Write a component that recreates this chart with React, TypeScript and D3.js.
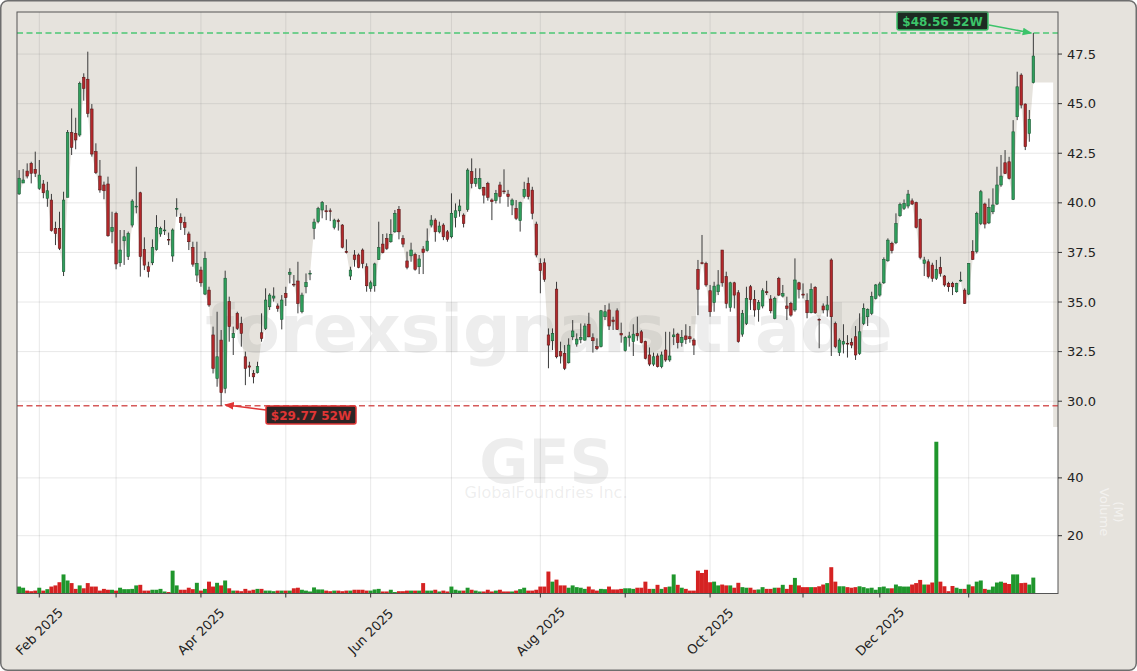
import * as d3 from "d3";

// GFS daily candles, 2025-01-27 .. 2026-01-27 (one row per trading day)
const opens = [
  40.45, 41.0, 41.6, 41.99, 41.69, 40.73, 40.95, 40.23, 40.14, 38.71, 38.71, 36.53, 40.28, 43.54, 43.5, 43.42, 46.33, 46.23, 44.73, 42.58,
  41.35, 40.9, 40.95, 38.55, 39.47, 36.98, 38.09, 37.29, 38.88, 39.8, 40.51, 37.65, 36.78, 36.98, 37.65, 38.43, 38.6, 38.16, 37.32, 39.72,
  39.27, 39.0, 38.43, 37.75, 36.36, 36.61, 35.4, 35.6, 33.34, 31.15, 33.08, 30.65, 35.02, 33.2, 34.43, 33.92, 32.24, 31.78, 31.4, 31.44,
  33.45, 33.67, 34.76, 35.2, 34.8, 34.13, 35.44, 36.4, 35.9, 36.06, 34.51, 35.77, 36.42, 38.7, 39.05, 39.64, 39.6, 39.6, 38.76, 39.1,
  38.88, 37.55, 36.31, 37.37, 37.37, 37.62, 36.78, 35.69, 35.82, 37.15, 37.92, 38.2, 38.04, 38.54, 39.67, 38.2, 37.07, 37.33, 37.4, 36.78,
  37.67, 37.59, 38.88, 39.13, 38.54, 38.88, 38.54, 38.29, 39.27, 39.6, 39.38, 39.67, 41.57, 40.98, 40.73, 40.78, 40.98, 40.14, 40.11, 40.9,
  40.6, 40.44, 39.89, 39.72, 39.1, 40.31, 40.98, 40.64, 38.93, 36.95, 36.98, 33.34, 33.05, 35.65, 32.5, 32.41, 31.94, 33.25, 32.88, 33.12,
  33.08, 33.88, 33.2, 32.75, 32.75, 34.26, 34.6, 34.09, 34.56, 33.42, 32.55, 33.2, 33.0, 33.42, 33.5, 33.0, 32.33, 31.87, 32.28, 31.74,
  32.58, 32.08, 33.25, 33.38, 32.95, 33.29, 33.25, 33.08, 36.65, 36.98, 36.95, 35.57, 34.97, 35.52, 37.62, 36.28, 34.73, 35.97, 35.47, 33.38,
  33.92, 35.77, 35.13, 34.63, 34.8, 35.52, 35.15, 34.17, 36.19, 35.3, 34.8, 34.93, 34.6, 35.97, 35.4, 35.07, 34.46, 35.74, 34.13, 34.8,
  34.6, 37.12, 33.92, 32.45, 32.88, 32.92, 32.96, 33.25, 32.41, 33.92, 34.26, 34.43, 35.18, 35.35, 35.97, 37.08, 37.96, 37.99, 39.35, 39.72,
  39.84, 40.1, 40.01, 39.17, 36.95, 37.03, 36.86, 36.19, 36.75, 36.31, 35.94, 35.94, 35.52, 36.08, 35.6, 35.4, 37.54, 37.54, 38.96, 39.94,
  38.99, 39.55, 39.94, 40.9, 42.02, 42.07, 40.17, 44.34, 46.44, 44.98, 43.5, 46.06,
];
const highs = [
  41.65, 41.7, 41.99, 42.07, 42.58, 42.16, 41.15, 41.06, 40.45, 39.05, 39.55, 40.56, 43.67, 44.76, 44.29, 46.11, 46.53, 47.62, 44.98, 43.0,
  42.16, 41.07, 41.32, 39.55, 39.55, 38.63, 38.63, 38.55, 40.18, 41.82, 40.56, 38.26, 37.03, 38.16, 39.38, 38.8, 39.13, 38.5, 38.71, 40.23,
  39.47, 39.3, 38.55, 38.04, 38.04, 36.78, 37.54, 35.77, 33.76, 34.51, 33.59, 36.58, 35.27, 33.76, 34.51, 34.26, 32.5, 31.99, 31.57, 31.99,
  34.43, 35.69, 35.44, 35.74, 34.93, 35.35, 35.77, 36.7, 36.36, 37.03, 35.47, 36.44, 36.6, 39.2, 39.8, 40.09, 39.89, 39.72, 39.2, 39.2,
  38.93, 38.16, 36.78, 37.62, 37.45, 37.7, 36.95, 36.08, 36.98, 39.05, 38.43, 38.46, 39.17, 39.64, 39.84, 38.37, 37.54, 37.99, 37.49, 37.37,
  37.82, 38.71, 39.38, 39.22, 39.05, 38.97, 38.63, 40.48, 39.97, 40.17, 39.47, 41.74, 42.24, 41.74, 41.74, 40.81, 41.06, 40.22, 40.65, 41.06,
  41.69, 40.65, 40.22, 40.14, 40.06, 41.06, 41.28, 40.81, 39.05, 37.2, 37.2, 33.67, 33.67, 36.02, 33.0, 32.83, 33.17, 34.09, 33.42, 33.92,
  33.92, 34.46, 33.42, 33.17, 34.6, 34.85, 34.93, 34.26, 34.68, 33.96, 33.29, 33.5, 33.88, 34.26, 33.59, 33.05, 32.71, 32.45, 32.41, 32.5,
  33.5, 33.5, 33.67, 33.45, 33.59, 33.88, 33.79, 33.17, 37.12, 38.38, 37.03, 35.86, 36.02, 36.61, 37.62, 36.53, 36.02, 36.02, 35.6, 34.6,
  35.77, 35.86, 35.6, 35.1, 35.69, 36.07, 35.35, 35.27, 36.27, 35.86, 35.27, 35.01, 37.2, 36.02, 35.94, 35.44, 35.94, 35.8, 34.18, 34.93,
  35.3, 37.2, 34.01, 33.17, 33.88, 33.33, 33.17, 33.79, 34.43, 34.93, 34.68, 35.52, 35.91, 36.02, 37.25, 38.21, 38.04, 39.47, 40.01, 40.17,
  40.65, 40.22, 40.06, 39.22, 37.28, 37.15, 36.98, 37.12, 37.28, 36.36, 36.02, 36.02, 35.97, 36.53, 35.69, 36.95, 38.12, 39.55, 40.65, 40.01,
  40.22, 40.73, 41.82, 42.41, 42.66, 42.32, 44.17, 46.61, 46.53, 45.01, 44.68, 48.56,
];
const lows = [
  40.4, 41.0, 41.23, 40.98, 41.3, 40.65, 40.23, 39.8, 38.55, 37.87, 37.62, 36.31, 40.28, 42.41, 42.7, 43.33, 45.15, 44.31, 42.33, 41.45,
  40.51, 40.18, 38.29, 37.96, 36.65, 36.78, 36.87, 37.12, 38.76, 39.47, 36.28, 36.61, 36.24, 36.86, 37.59, 38.29, 38.38, 37.87, 37.03, 39.3,
  38.63, 38.38, 37.62, 36.78, 36.02, 35.77, 35.35, 34.76, 31.4, 30.73, 29.77, 30.4, 33.0, 32.33, 33.59, 32.75, 30.81, 31.23, 30.9, 31.4,
  33.0, 33.59, 34.6, 35.02, 34.51, 33.62, 34.8, 35.94, 35.77, 34.43, 34.43, 35.44, 36.1, 38.16, 38.97, 39.22, 39.13, 39.08, 38.66, 38.6,
  37.7, 37.45, 36.11, 36.78, 36.7, 36.7, 35.52, 35.52, 35.52, 37.12, 37.45, 37.62, 37.99, 38.49, 38.16, 37.76, 36.65, 37.03, 36.58, 36.41,
  36.41, 37.54, 38.76, 38.04, 38.46, 38.12, 38.04, 38.21, 38.76, 39.3, 38.76, 39.55, 40.73, 40.81, 40.68, 39.97, 40.11, 39.13, 39.97, 39.97,
  40.44, 39.8, 39.38, 39.13, 38.55, 40.22, 40.17, 39.17, 37.25, 35.44, 36.02, 31.66, 32.58, 32.16, 31.9, 31.57, 31.9, 33.08, 32.75, 32.92,
  33.05, 33.22, 32.45, 32.58, 32.71, 34.09, 33.59, 33.59, 33.59, 32.95, 32.5, 32.75, 32.28, 33.05, 32.92, 32.11, 31.77, 31.77, 31.7, 31.66,
  31.99, 31.99, 32.83, 32.66, 32.75, 32.88, 32.95, 32.33, 34.34, 36.9, 35.77, 34.26, 34.51, 35.35, 35.77, 34.68, 34.51, 34.68, 32.95, 33.25,
  33.84, 34.6, 34.26, 34.01, 34.68, 35.35, 34.43, 34.13, 35.3, 35.23, 34.09, 34.26, 34.51, 35.18, 35.18, 34.18, 34.43, 34.4, 32.67, 34.43,
  34.26, 32.28, 32.67, 32.28, 32.41, 32.2, 32.67, 32.08, 32.33, 33.84, 33.79, 34.34, 35.13, 35.27, 35.91, 37.03, 37.45, 37.92, 39.3, 39.64,
  39.72, 39.89, 38.71, 37.15, 36.31, 36.19, 36.02, 36.11, 36.28, 35.77, 35.52, 35.35, 35.47, 36.02, 34.9, 35.35, 37.12, 37.45, 38.88, 38.71,
  38.93, 39.43, 39.89, 40.81, 41.45, 41.18, 40.14, 44.17, 44.76, 42.66, 43.08, 46.02,
];
const closes = [
  41.24, 41.15, 41.35, 41.49, 41.49, 41.4, 40.51, 40.61, 38.6, 38.46, 37.71, 40.14, 43.55, 42.8, 43.17, 46.02, 45.77, 44.51, 42.46, 41.52,
  40.65, 40.61, 38.34, 38.76, 36.92, 37.62, 38.29, 38.46, 40.09, 39.83, 37.29, 36.86, 36.53, 37.75, 38.76, 38.71, 38.63, 38.13, 38.63, 39.72,
  39.0, 38.76, 38.04, 36.91, 36.95, 35.97, 37.2, 34.85, 31.65, 32.24, 30.43, 36.2, 33.76, 33.42, 33.67, 33.42, 31.65, 31.72, 31.23, 31.74,
  33.17, 35.1, 35.35, 35.3, 34.68, 35.1, 35.22, 36.5, 35.88, 34.93, 35.35, 35.99, 36.45, 39.03, 39.72, 40.02, 39.55, 39.58, 39.13, 39.05,
  37.76, 37.5, 36.61, 37.15, 36.75, 36.95, 35.82, 35.97, 36.92, 37.74, 37.49, 37.7, 38.41, 39.47, 38.54, 37.92, 36.75, 37.62, 36.65, 37.17,
  37.49, 38.07, 39.13, 38.54, 38.83, 38.29, 38.16, 39.47, 39.6, 39.84, 38.96, 41.65, 40.98, 41.23, 41.23, 40.39, 40.28, 40.06, 40.48, 40.31,
  40.56, 40.31, 40.14, 39.22, 40.01, 40.68, 40.31, 39.47, 37.37, 36.58, 36.14, 32.83, 33.42, 32.24, 32.28, 31.66, 32.83, 33.54, 33.13, 33.22,
  33.79, 33.25, 33.05, 32.65, 34.56, 34.51, 33.79, 34.01, 33.62, 33.34, 33.22, 33.29, 33.38, 33.3, 32.95, 32.16, 31.87, 32.24, 31.74, 32.33,
  32.08, 32.28, 33.34, 32.95, 33.22, 33.12, 33.15, 32.83, 35.64, 36.95, 35.86, 34.51, 35.8, 35.86, 35.97, 34.93, 35.97, 35.35, 33.0, 34.43,
  35.18, 35.13, 34.6, 34.97, 35.57, 35.47, 34.56, 35.18, 35.35, 35.43, 34.68, 34.34, 36.11, 35.64, 35.35, 34.46, 35.64, 34.46, 34.12, 34.6,
  34.85, 34.26, 32.75, 33.08, 33.0, 32.9, 32.83, 32.33, 33.5, 34.68, 34.63, 35.27, 35.86, 35.91, 37.15, 38.12, 37.59, 38.96, 39.92, 39.97,
  40.44, 39.94, 38.76, 37.25, 37.12, 36.28, 36.19, 36.65, 36.44, 35.86, 35.77, 35.77, 35.94, 36.1, 34.93, 36.95, 37.15, 39.47, 40.56, 38.93,
  39.77, 39.89, 40.9, 41.35, 41.48, 41.23, 43.58, 45.85, 44.93, 42.83, 44.21, 47.4,
];
// volume in millions
const volumes = [
  2.4, 2.0, 1.0, 0.8, 1.0, 2.0, 1.0, 1.5, 2.4, 2.8, 3.9, 6.6, 4.5, 3.6, 1.6, 2.8, 1.8, 3.6, 2.4, 2.4,
  1.0, 1.6, 1.3, 1.3, 1.0, 2.0, 1.5, 1.5, 1.6, 2.8, 3.0, 1.0, 1.0, 1.3, 1.3, 1.6, 0.7, 0.5, 7.9, 2.8,
  1.3, 1.3, 2.0, 1.5, 3.7, 1.0, 1.6, 4.1, 2.4, 3.7, 2.8, 4.5, 1.8, 1.0, 1.0, 0.8, 1.6, 1.0, 1.3, 1.6,
  1.6, 1.0, 1.0, 0.8, 1.0, 1.0, 1.0, 1.0, 1.8, 2.0, 1.3, 1.0, 0.7, 2.1, 1.4, 1.4, 1.0, 0.8, 1.0, 1.0,
  0.8, 1.0, 1.0, 1.3, 1.3, 1.3, 1.0, 1.0, 1.4, 1.6, 0.7, 0.7, 1.3, 0.5, 0.8, 0.8, 1.0, 1.0, 1.0, 1.0,
  3.6, 1.0, 1.0, 1.3, 0.7, 1.0, 0.7, 2.4, 1.3, 1.0, 1.0, 2.0, 1.3, 1.0, 0.7, 0.7, 1.3, 0.7, 1.0, 1.3,
  0.7, 0.7, 0.7, 1.0, 1.5, 2.0, 1.0, 1.0, 1.3, 2.4, 2.4, 7.6, 4.1, 4.8, 2.8, 2.8, 2.0, 2.8, 2.2, 2.0,
  1.6, 2.4, 1.4, 1.0, 1.6, 1.5, 2.4, 1.4, 1.4, 1.6, 1.8, 1.8, 1.6, 2.0, 2.0, 4.1, 1.6, 1.6, 3.0, 1.6,
  2.2, 2.4, 6.6, 3.0, 2.0, 1.6, 1.0, 1.0, 7.9, 7.1, 8.2, 3.9, 4.1, 2.8, 3.1, 2.8, 2.8, 2.0, 3.7, 2.2,
  2.0, 2.0, 1.3, 1.4, 2.2, 1.6, 1.6, 2.0, 2.0, 3.0, 1.6, 3.0, 5.4, 2.8, 2.2, 2.2, 2.2, 2.2, 2.5, 3.1,
  3.6, 9.1, 4.1, 2.5, 2.5, 2.2, 2.0, 2.2, 2.5, 2.2, 1.8, 2.0, 1.3, 2.2, 2.4, 1.8, 1.8, 3.1, 2.5, 2.4,
  2.4, 3.1, 3.6, 4.7, 3.1, 3.1, 3.8, 52.5, 4.1, 2.5, 0.8, 2.6, 2.0, 1.6, 1.6, 3.1, 2.5, 4.1, 4.5, 1.6,
  1.3, 2.4, 3.8, 4.1, 3.7, 3.3, 6.6, 6.6, 3.6, 3.7, 3.1, 5.5,
];
const priceTicks = [30, 32.5, 35, 37.5, 40, 42.5, 45, 47.5];
const volumeTicks = [20, 40];
const marketHolidays = [
  "2025-02-17", "2025-04-18", "2025-05-26", "2025-06-19", "2025-07-04",
  "2025-09-01", "2025-11-27", "2025-12-25", "2026-01-01", "2026-01-19",
];
const firstDay = "2025-01-27";
const high52 = 48.56;
const low52 = 29.77;
const ticker = "GFS";
const company = "GlobalFoundries Inc.";
const watermark = "forexsignals.trade";

// trading calendar: weekdays minus exchange holidays
function tradingDates(start: string, count: number) {
  const out: Date[] = [];
  const d = new Date(start + "T00:00:00Z");
  while (out.length < count) {
    const wd = d.getUTCDay();
    const iso = d.toISOString().slice(0, 10);
    if (wd !== 0 && wd !== 6 && !marketHolidays.includes(iso)) out.push(new Date(d));
    d.setUTCDate(d.getUTCDate() + 1);
  }
  return out;
}

const W = 1137;
const H = 671;
const L = 17;
const R = 1058;
const T = 12;
const B = 593.5;
const SPLIT = 427;

const UP = "#2f9f5c";
const UP_EDGE = "#1d5a36";
const DN = "#b3282b";
const DN_EDGE = "#5c1a1a";
const VUP = "#1f962c";
const VDN = "#d52222";
const BEIGE = "#e6e3dd";

export default function App() {
  const n = closes.length;
  const dates = tradingDates(firstDay, n);

  const x = d3.scaleLinear().domain([-0.52, n + 5.1]).range([L, R]);
  const yP = d3.scaleLinear().domain([28.7, 49.62]).range([SPLIT, T]);
  const yV = d3.scaleLinear().domain([0, 57.6]).range([B, SPLIT]);
  const step = x(1) - x(0);
  const bodyW = step * 0.62;

  // month ticks at first trading day of each month
  const monthTicks: { i: number; label: string }[] = [];
  dates.forEach((d, i) => {
    if (i > 0 && d.getUTCMonth() !== dates[i - 1].getUTCMonth()) {
      monthTicks.push({ i, label: d3.utcFormat("%b %Y")(d) });
    }
  });

  // white fill under the candle bodies
  const bodyLow = opens.map((o, i) => Math.min(o, closes[i]));
  const pts: [number, number][] = [[-0.52, bodyLow[0]], ...bodyLow.map((v, i) => [i, v] as [number, number]), [n + 3.9, bodyLow[n - 1]]];
  const area = d3
    .area<[number, number]>()
    .x((d) => x(d[0]))
    .y0(SPLIT)
    .y1((d) => yP(d[1]));

  const hiIdx = highs.indexOf(d3.max(highs) as number);
  const loIdx = lows.indexOf(d3.min(lows) as number);
  const hiPt = [x(hiIdx), yP(high52)];
  const loPt = [x(loIdx), yP(low52)];
  const grid = "rgba(120,120,120,0.22)";

  return (
    <svg width={W} height={H} style={{ position: "absolute", left: 0, top: 0 }} fontFamily="DejaVu Sans, sans-serif">
      <defs>
        <clipPath id="plot">
          <rect x={L} y={T} width={R - L} height={B - T} />
        </clipPath>
        <marker id="ahG" viewBox="0 0 10 10" refX="9" refY="5" markerWidth="6" markerHeight="6" orient="auto">
          <path d="M0,1 L10,5 L0,9 z" fill="#3cc46a" />
        </marker>
        <marker id="ahR" viewBox="0 0 10 10" refX="9" refY="5" markerWidth="6" markerHeight="6" orient="auto">
          <path d="M0,1 L10,5 L0,9 z" fill="#e03535" />
        </marker>
      </defs>
      <rect x={0.75} y={0.75} width={W - 1.5} height={H - 1.5} rx={7} fill={BEIGE} stroke="#6e6e6e" strokeWidth={1.5} />
      <rect x={L} y={T} width={R - L} height={SPLIT - T} fill={BEIGE} />
      <rect x={L} y={SPLIT} width={R - L} height={B - SPLIT} fill="#ffffff" />
      <g clipPath="url(#plot)">
        <path d={area(pts) ?? ""} fill="#ffffff" />
        {monthTicks.map((t) => (
          <line key={t.i} x1={x(t.i)} x2={x(t.i)} y1={T} y2={B} stroke={grid} strokeWidth={0.8} />
        ))}
        {priceTicks.map((p) => (
          <line key={p} x1={L} x2={R} y1={yP(p)} y2={yP(p)} stroke={grid} strokeWidth={0.8} />
        ))}
        {volumeTicks.map((v) => (
          <line key={v} x1={L} x2={R} y1={yV(v)} y2={yV(v)} stroke={grid} strokeWidth={0.8} />
        ))}
        <g fill="#808080" fillOpacity={0.14} fontWeight="bold" textAnchor="middle">
          <text x={549} y={352} fontSize={66.5}>{watermark}</text>
          <text x={546} y={483} fontSize={60}>{ticker}</text>
          <text x={546} y={498} fontSize={16} fontWeight="normal">{company}</text>
        </g>
        <line x1={L} x2={R} y1={yP(high52)} y2={yP(high52)} stroke="#4cc774" strokeWidth={1.4} strokeDasharray="6,3.5" />
        <line x1={L} x2={R} y1={yP(low52)} y2={yP(low52)} stroke="#d65a5a" strokeWidth={1.4} strokeDasharray="6,3.5" />
        {volumes.map((v, i) => (
          <rect
            key={i}
            x={x(i) - step / 2}
            width={step * 0.98}
            y={yV(v)}
            height={yV(0) - yV(v)}
            fill={closes[i] >= opens[i] ? VUP : VDN}
          />
        ))}
        {closes.map((c, i) => {
          const up = c >= opens[i];
          const top = yP(Math.max(c, opens[i]));
          const bot = yP(Math.min(c, opens[i]));
          return (
            <g key={i}>
              <line x1={x(i)} x2={x(i)} y1={yP(highs[i])} y2={yP(lows[i])} stroke="#3a3a3a" strokeWidth={1} />
              <rect
                x={x(i) - bodyW / 2}
                width={bodyW}
                y={top}
                height={Math.max(bot - top, 0.8)}
                fill={up ? UP : DN}
                stroke={up ? UP_EDGE : DN_EDGE}
                strokeWidth={0.6}
              />
            </g>
          );
        })}
      </g>
      {/* 52-week annotations */}
      <line x1={989} y1={25} x2={hiPt[0] - 2} y2={hiPt[1]} stroke="#3cc46a" strokeWidth={1.6} markerEnd="url(#ahG)" />
      <rect x={897} y={12} width={91} height={18} rx={2} fill="#1d2b22" stroke="#3cc46a" strokeWidth={1.5} />
      <text x={942.5} y={25.5} fontSize={12} fontWeight="bold" fill="#3cc46a" textAnchor="middle">
        ${high52.toFixed(2)} 52W
      </text>
      <line x1={266} y1={410} x2={loPt[0] + 4} y2={loPt[1] - 1} stroke="#e03535" strokeWidth={1.6} markerEnd="url(#ahR)" />
      <rect x={266} y={406} width={90} height={18} rx={2} fill="#2c2424" stroke="#e03535" strokeWidth={1.5} />
      <text x={311} y={419.5} fontSize={12} fontWeight="bold" fill="#e03535" textAnchor="middle">
        ${low52.toFixed(2)} 52W
      </text>
      {/* frame */}
      <rect x={L} y={T} width={R - L} height={B - T} fill="none" stroke="#555" strokeWidth={1} />
      {/* right axis */}
      {priceTicks.map((p) => (
        <g key={p}>
          <line x1={R} x2={R + 4} y1={yP(p)} y2={yP(p)} stroke="#333" />
          <text x={R + 9} y={yP(p)} dy="0.35em" fontSize={13} fill="#222">
            {p.toFixed(1)}
          </text>
        </g>
      ))}
      {volumeTicks.map((v) => (
        <g key={v}>
          <line x1={R} x2={R + 4} y1={yV(v)} y2={yV(v)} stroke="#333" />
          <text x={R + 9} y={yV(v)} dy="0.35em" fontSize={13} fill="#222">
            {v}
          </text>
        </g>
      ))}
      <g fill="#ffffff" fillOpacity={0.55} fontSize={13} textAnchor="middle">
        <text transform="translate(1100,512) rotate(90)">Volume</text>
        <text transform="translate(1114,512) rotate(90)">(M)</text>
      </g>
      {/* bottom axis */}
      {monthTicks.map((t, k) => (
        <g key={t.i}>
          <line x1={x(t.i)} x2={x(t.i)} y1={B} y2={B + 4} stroke="#333" />
          {k % 2 === 0 && (
            <text
              transform={`translate(${x(t.i)},${B + 38}) rotate(-45)`}
              textAnchor="middle"
              dy="0.35em"
              fontSize={13}
              fill="#222"
            >
              {t.label}
            </text>
          )}
        </g>
      ))}
    </svg>
  );
}
